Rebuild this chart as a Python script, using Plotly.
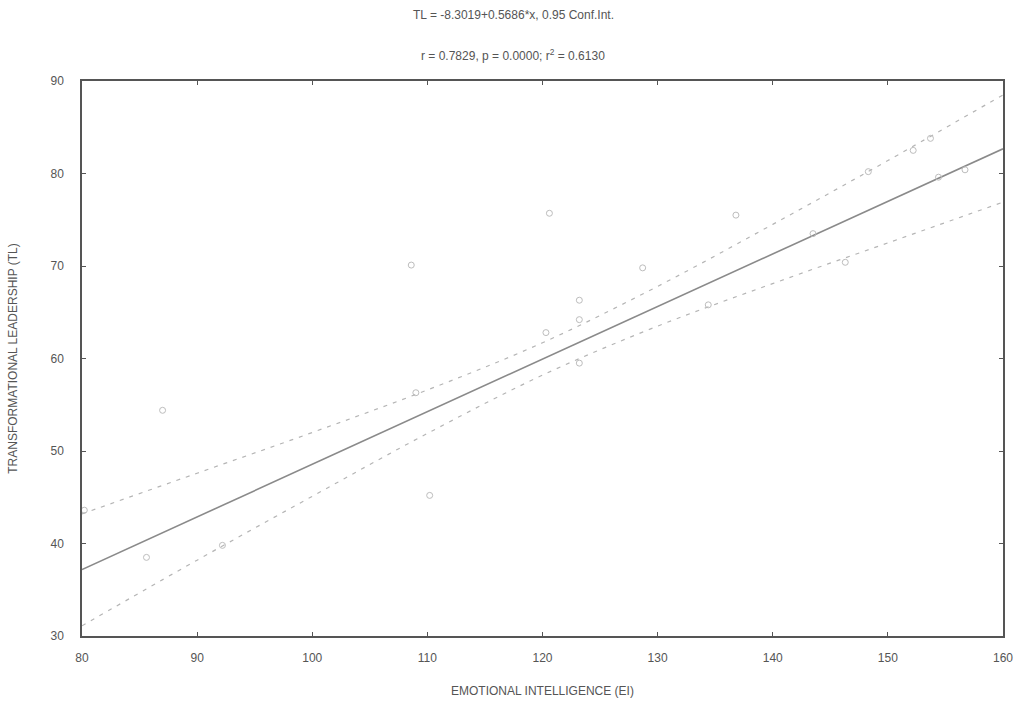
import plotly.graph_objects as go

# Scatter points (EI, TL)
ei = [80.2, 85.6, 87.0, 92.2, 108.6, 109.0, 110.2, 120.3, 120.6, 123.2, 123.2, 123.2,
      128.7, 134.4, 136.8, 143.5, 146.3, 148.3, 152.2, 153.7, 154.4, 156.7]
tl = [43.6, 38.5, 54.4, 39.8, 70.1, 56.3, 45.2, 62.8, 75.7, 66.3, 64.2, 59.5,
      69.8, 65.8, 75.5, 73.5, 70.4, 80.2, 82.5, 83.8, 79.6, 80.4]

# Regression coefficients (from the title)
intercept = -8.3019
slope = 0.5686

# 0.95 confidence band
band_x = [80, 90, 100, 110, 120, 130, 140, 150, 160]
band_upper = [43.2, 47.6, 52.0, 56.6, 61.7, 67.8, 74.5, 81.4, 88.5]
band_lower = [31.1, 38.2, 45.1, 51.9, 58.2, 63.5, 68.1, 72.5, 76.9]

x_ticks = [80, 90, 100, 110, 120, 130, 140, 150, 160]
y_ticks = [30, 40, 50, 60, 70, 80, 90]

font_family = "Liberation Sans, Arial, sans-serif"
text_col = "#555555"

fig = go.Figure()

line_x = [80, 160]
line_y = [intercept + slope * v for v in line_x]

fig.add_trace(go.Scatter(x=band_x, y=band_upper, mode="lines",
                         line=dict(color="#b5b5b5", width=1.2, dash="4px,6px", shape="spline"),
                         showlegend=False, hoverinfo="skip"))
fig.add_trace(go.Scatter(x=band_x, y=band_lower, mode="lines",
                         line=dict(color="#b5b5b5", width=1.2, dash="4px,6px", shape="spline"),
                         showlegend=False, hoverinfo="skip"))
fig.add_trace(go.Scatter(x=line_x, y=line_y, mode="lines",
                         line=dict(color="#8a8a8a", width=1.6),
                         showlegend=False))
fig.add_trace(go.Scatter(x=ei, y=tl, mode="markers",
                         marker=dict(symbol="circle-open", size=6, color="#bdbdbd",
                                     line=dict(width=1)),
                         showlegend=False))

axis_common = dict(showgrid=False, zeroline=False, showline=True, linecolor="#555555",
                   linewidth=1.5, mirror="ticks", ticks="inside", ticklen=4,
                   tickcolor="#555555",
                   tickfont=dict(family=font_family, size=12, color=text_col))

fig.update_xaxes(range=[80, 160], tickvals=x_ticks, ticklabelstandoff=10,
                 title=dict(text="EMOTIONAL INTELLIGENCE (EI)", standoff=22,
                            font=dict(family=font_family, size=12, color=text_col)),
                 **axis_common)
fig.update_yaxes(range=[30, 90], tickvals=y_ticks, ticklabelstandoff=14,
                 title=dict(text="TRANSFORMATIONAL LEADERSHIP (TL)", standoff=30,
                            font=dict(family=font_family, size=12, color=text_col)),
                 **axis_common)

fig.update_layout(
    width=1025, height=712,
    margin=dict(l=82, r=20, t=81, b=76),
    paper_bgcolor="white", plot_bgcolor="white",
    annotations=[
        dict(text="TL = -8.3019+0.5686*x, 0.95 Conf.Int.", xref="paper", yref="paper",
             x=0.468, y=1.0, yshift=66, showarrow=False, yanchor="middle",
             font=dict(family=font_family, size=12, color=text_col)),
        dict(text="r = 0.7829, p = 0.0000; r<sup>2</sup> = 0.6130", xref="paper", yref="paper",
             x=0.468, y=1.0, yshift=26, showarrow=False, yanchor="middle",
             font=dict(family=font_family, size=12, color=text_col)),
    ],
)

fig.write_html("out.html")
